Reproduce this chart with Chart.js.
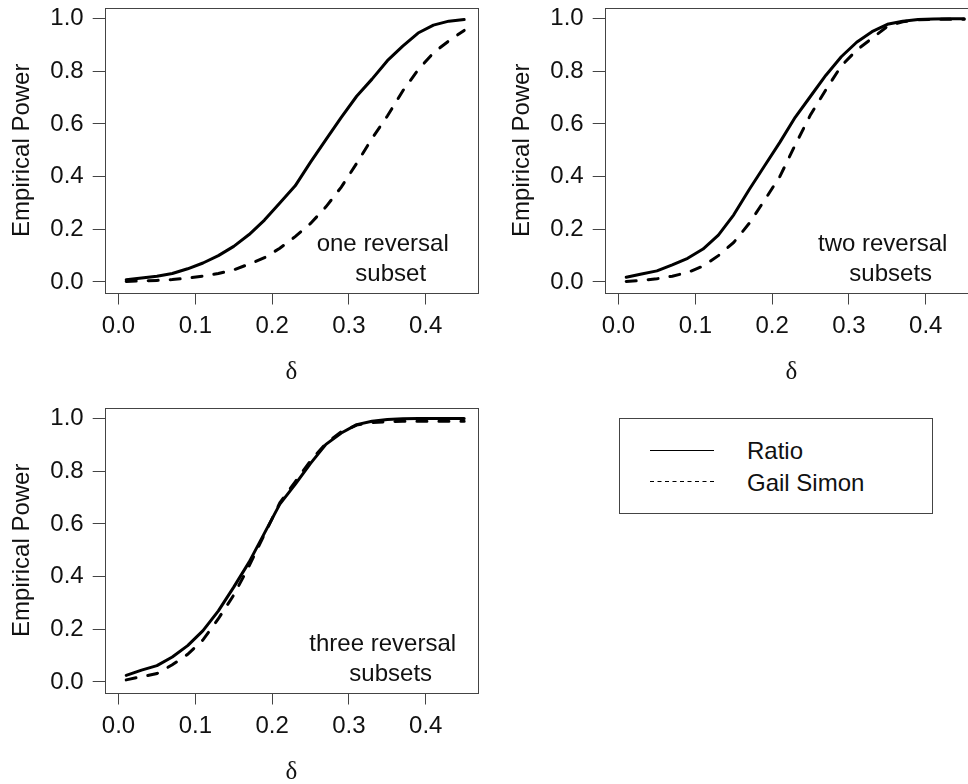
<!DOCTYPE html>
<html>
<head>
<meta charset="utf-8">
<script src="https://cdn.jsdelivr.net/npm/chart.js@4.4.0/dist/chart.umd.min.js"></script>
<style>
  html, body { margin: 0; padding: 0; background: #fff; overflow: hidden; }
  #page { position: relative; width: 968px; height: 784px; overflow: hidden; }
  .cell { position: absolute; width: 500px; height: 400px; }
  #legend { position: absolute; left: 600px; top: 400px; }
</style>
</head>
<body>
<div id="page">
  <div class="cell" style="left:0;top:0"><canvas id="p1" width="500" height="400"></canvas></div>
  <div class="cell" style="left:500px;top:0"><canvas id="p2" width="500" height="400"></canvas></div>
  <div class="cell" style="left:0;top:400px"><canvas id="p3" width="500" height="400"></canvas></div>
  <svg id="legend" width="368" height="130">
    <rect x="19.5" y="18.5" width="313" height="95" fill="none" stroke="#444" stroke-width="1"/>
    <line x1="50" x2="114" y1="50.5" y2="50.5" stroke="#000" stroke-width="1"/>
    <line x1="50" x2="114" y1="81.5" y2="81.5" stroke="#000" stroke-width="1" stroke-dasharray="4 3.5"/>
    <text id="lg1" x="147" y="59" font-family="Liberation Sans, Arial, sans-serif" font-size="24" fill="#111"></text>
    <text id="lg2" x="147" y="90.5" font-family="Liberation Sans, Arial, sans-serif" font-size="24" fill="#111"></text>
  </svg>
</div>
<script>
// delta values (x axis)
const delta = [0.01, 0.03, 0.05, 0.07, 0.09, 0.11, 0.13, 0.15, 0.17, 0.19, 0.21, 0.23,
               0.25, 0.27, 0.29, 0.31, 0.33, 0.35, 0.37, 0.39, 0.41, 0.43, 0.45];

// empirical power, one reversal subset
const ratioOne = [0.008, 0.015, 0.022, 0.032, 0.05, 0.072, 0.10, 0.135, 0.18, 0.235, 0.30, 0.365,
                  0.455, 0.54, 0.625, 0.705, 0.77, 0.84, 0.895, 0.945, 0.975, 0.99, 0.996];
const gailOne = [0.002, 0.004, 0.006, 0.009, 0.015, 0.022, 0.032, 0.046, 0.068, 0.092, 0.128, 0.172,
                 0.222, 0.285, 0.36, 0.45, 0.545, 0.63, 0.725, 0.805, 0.87, 0.915, 0.955];

// two reversal subsets
const ratioTwo = [0.018, 0.03, 0.042, 0.065, 0.09, 0.125, 0.178, 0.255, 0.35, 0.44, 0.53, 0.625,
                  0.705, 0.785, 0.855, 0.91, 0.95, 0.978, 0.99, 0.996, 0.998, 0.999, 0.999];
const gailTwo = [0.002, 0.006, 0.012, 0.022, 0.036, 0.06, 0.10, 0.15, 0.222, 0.31, 0.40, 0.52,
                 0.635, 0.73, 0.82, 0.88, 0.925, 0.97, 0.988, 0.995, 0.997, 0.997, 0.997];

// three reversal subsets
const ratioThree = [0.025, 0.045, 0.062, 0.095, 0.138, 0.195, 0.27, 0.36, 0.455, 0.565, 0.675, 0.75,
                    0.83, 0.902, 0.945, 0.977, 0.99, 0.996, 0.999, 1.0, 1.0, 1.0, 1.0];
const gailThree = [0.008, 0.02, 0.032, 0.065, 0.105, 0.16, 0.24, 0.33, 0.44, 0.56, 0.68, 0.76,
                   0.84, 0.905, 0.95, 0.975, 0.985, 0.988, 0.99, 0.99, 0.99, 0.99, 0.99];

const xTicks = [0, 0.1, 0.2, 0.3, 0.4];
const yTicks = [0, 0.2, 0.4, 0.6, 0.8, 1.0];
const seriesNames = ["Ratio", "Gail Simon"];
const yTitle = "Empirical Power";
const xTitle = "δ";

document.getElementById("lg1").textContent = seriesNames[0];
document.getElementById("lg2").textContent = seriesNames[1];

const SANS = '"Liberation Sans", Arial, sans-serif';
const INK = "#111";
const AXIS = "#444";

// box round the plot area + the panel note
const boxNote = {
  id: "boxNote",
  afterDraw(chart, args, opts) {
    const c = chart.ctx;
    const a = chart.chartArea;
    c.save();
    c.strokeStyle = AXIS;
    c.lineWidth = 1;
    c.strokeRect(Math.round(a.left) + 0.5, Math.round(a.top) + 0.5,
                 Math.round(a.right - a.left), Math.round(a.bottom - a.top));
    c.font = "24px " + SANS;
    c.fillStyle = INK;
    c.textAlign = "center";
    c.textBaseline = "alphabetic";
    c.fillText(opts.lines[0], a.left + 278, a.top + 243);
    c.fillText(opts.lines[1], a.left + 286, a.top + 273);
    c.restore();
  }
};

function toPoints(ys) {
  return delta.map((d, i) => ({ x: d, y: ys[i] }));
}

function makePanel(id, ratio, gail, lines) {
  new Chart(document.getElementById(id), {
    type: "scatter",
    data: {
      datasets: [
        { label: seriesNames[0], data: toPoints(ratio), showLine: true, pointRadius: 0,
          borderColor: "#000", borderWidth: 3, borderCapStyle: "round", borderJoinStyle: "round" },
        { label: seriesNames[1], data: toPoints(gail), showLine: true, pointRadius: 0,
          borderColor: "#000", borderWidth: 3, borderDash: [10, 12], borderCapStyle: "round" }
      ]
    },
    options: {
      responsive: false,
      animation: false,
      layout: { padding: { left: 0, top: 8, right: 22, bottom: 0 } },
      plugins: {
        legend: { display: false },
        tooltip: { enabled: false },
        boxNote: { lines: lines }
      },
      scales: {
        x: {
          type: "linear", min: -0.018, max: 0.468,
          afterBuildTicks: s => { s.ticks = xTicks.map(v => ({ value: v })); },
          afterFit: s => { s.height = 107.5; s.paddingLeft = 0; s.paddingRight = 0; },
          grid: { drawOnChartArea: false, drawTicks: true, tickLength: 12, color: AXIS },
          border: { display: false },
          ticks: { padding: 7, color: INK, autoSkip: false, maxRotation: 0,
                   font: { family: SANS, size: 24 }, callback: v => v.toFixed(1) },
          title: { display: true, text: xTitle, color: INK,
                   font: { family: '"Liberation Serif", "Times New Roman", serif', size: 25 },
                   padding: { top: 0, bottom: 13 } }
        },
        y: {
          type: "linear", min: -0.04, max: 1.04,
          afterBuildTicks: s => { s.ticks = yTicks.map(v => ({ value: v })); },
          afterFit: s => { s.width = 104.7; s.paddingTop = 0; s.paddingBottom = 0; },
          grid: { drawOnChartArea: false, drawTicks: true, tickLength: 12, color: AXIS },
          border: { display: false },
          ticks: { padding: 9, color: INK, font: { family: SANS, size: 24 },
                   callback: v => v.toFixed(1) },
          title: { display: true, text: yTitle, color: INK,
                   font: { family: SANS, size: 24 }, padding: { top: 8, bottom: 0 } }
        }
      }
    },
    plugins: [boxNote]
  });
}

makePanel("p1", ratioOne, gailOne, ["one reversal", "subset"]);
makePanel("p2", ratioTwo, gailTwo, ["two reversal", "subsets"]);
makePanel("p3", ratioThree, gailThree, ["three reversal", "subsets"]);
</script>
</body>
</html>
